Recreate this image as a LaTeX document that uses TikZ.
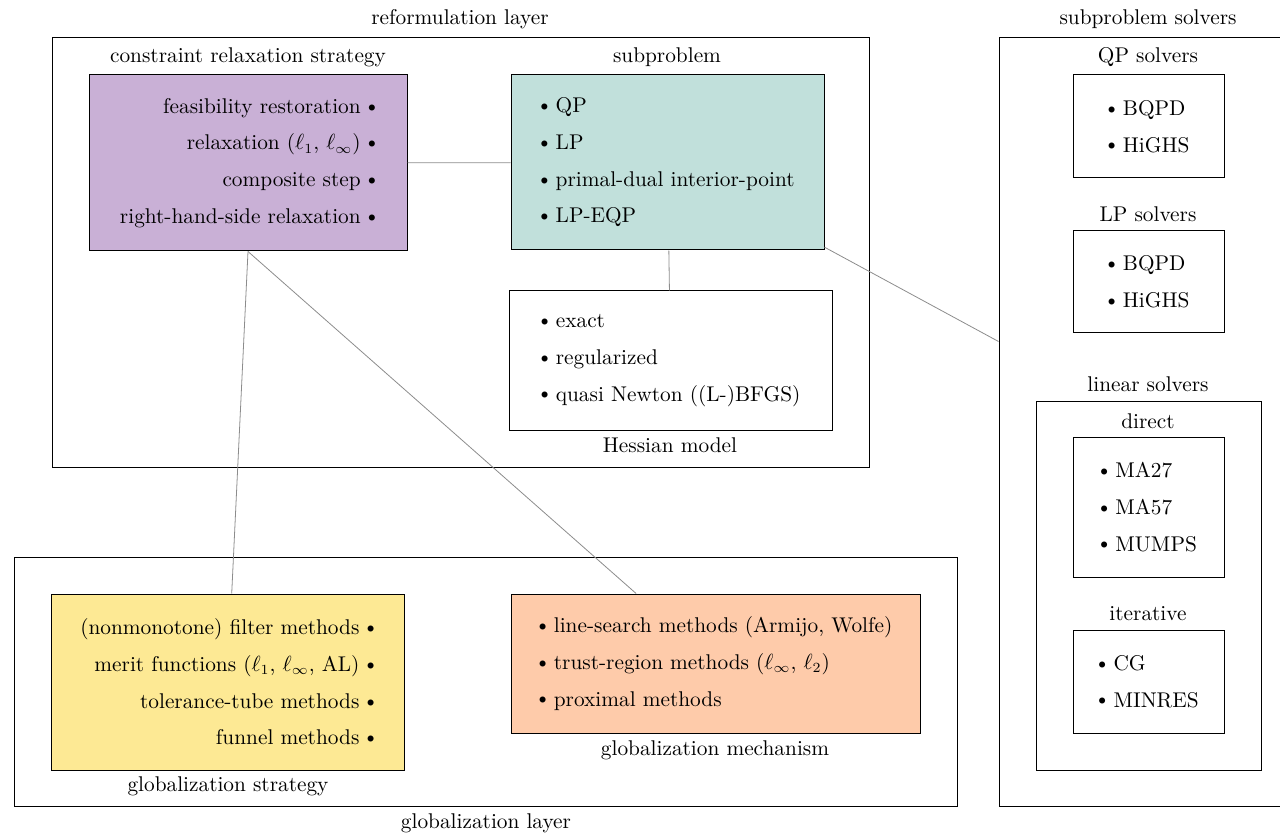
\documentclass[tikz,border=0pt]{standalone}
\usepackage{tikz}
\definecolor{cpurple}{RGB}{201,176,214}
\definecolor{cteal}{RGB}{193,224,219}
\definecolor{cyellow}{RGB}{253,233,148}
\definecolor{corange}{RGB}{254,203,170}
\newcommand{\bul}{\ensuremath{\vcenter{\hbox{$\scriptstyle\bullet$}}}}
\begin{document}
\begin{tikzpicture}[x=0.5pt,y=-0.5pt,
  box/.style={draw=black, line width=0.5pt, rectangle, inner sep=0pt,
    font=\fontsize{10.66}{18.35}\selectfont},
  lay/.style={draw=black, line width=0.5pt, rectangle, inner sep=0pt},
  lbl/.style={inner sep=0pt, text height=7.4pt, text depth=2.1pt, font=\fontsize{10.66}{12.8}\selectfont},
  link/.style={draw=black!45, line width=0.4pt}]
\clip (0,0) rectangle (1280,834);
\useasboundingbox (0,0) rectangle (1280,834);
% layers
\node[lay, minimum width=408.5pt, minimum height=214.5pt] (reform) at (460.5,252.5) {};
\node[lay, minimum width=471.5pt, minimum height=124.5pt] (globl) at (485.5,681.5) {};
\node[lay, minimum width=149pt, minimum height=384pt] (solvers) at (1148,422) {};
\node[lay, minimum width=112.5pt, minimum height=184.5pt] (linear) at (1148.5,585.5) {};
% boxes
\node[box, fill=cpurple, align=right, minimum width=159pt, minimum height=88pt] (crs) at (248,163)
  {feasibility restoration \bul\\ relaxation ($\ell_1$, $\ell_\infty$) \bul\\ composite step \bul\\ right-hand-side relaxation \bul};
\node[box, fill=cteal, align=left, minimum width=156.5pt, minimum height=87.5pt] (sub) at (667.5,162.5)
  {\bul{} QP\\ \bul{} LP\\ \bul{} primal-dual interior-point\\ \bul{} LP-EQP};
\node[box, fill=white, align=left, minimum width=161.5pt, minimum height=69.5pt] (hess) at (670.5,360.5)
  {\bul{} exact\\ \bul{} regularized\\ \bul{} quasi Newton ((L-)BFGS)};
\node[box, fill=cyellow, align=right, minimum width=176.5pt, minimum height=88pt] (gstrat) at (227.5,682)
  {(nonmonotone) filter methods \bul\\ merit functions ($\ell_1$, $\ell_\infty$, AL) \bul\\ tolerance-tube methods \bul\\ funnel methods \bul};
\node[box, fill=corange, align=left, minimum width=204.5pt, minimum height=69.5pt] (gmech) at (715.5,663.5)
  {\bul{} line-search methods (Armijo, Wolfe)\\ \bul{} trust-region methods ($\ell_\infty$, $\ell_2$)\\ \bul{} proximal methods};
\node[box, align=left, minimum width=75.5pt, minimum height=51.5pt] (qp) at (1148.5,126.5)
  {\bul{} BQPD\\ \bul{} HiGHS};
\node[box, align=left, minimum width=75.5pt, minimum height=51pt] (lp) at (1148.5,282)
  {\bul{} BQPD\\ \bul{} HiGHS};
\node[box, align=left, minimum width=75.5pt, minimum height=70pt] (direct) at (1148.5,507)
  {\bul{} MA27\\ \bul{} MA57\\ \bul{} MUMPS};
\node[box, align=left, minimum width=75.5pt, minimum height=51.5pt] (iter) at (1148.5,681.5)
  {\bul{} CG\\ \bul{} MINRES};
% labels
\node[lbl] (lreform) at (460,19) {reformulation layer};
\node[lbl] (lcrs) at (248,57) {constraint relaxation strategy};
\node[lbl] (lsub) at (667,57) {subproblem};
\node[lbl] (lhess) at (670,447) {Hessian model};
\node[lbl] (lsolvers) at (1148,19) {subproblem solvers};
\node[lbl] (lqp) at (1148,57) {QP solvers};
\node[lbl] (llp) at (1148,216) {LP solvers};
\node[lbl] (llinear) at (1148,386) {linear solvers};
\node[lbl] (ldirect) at (1148,423) {direct};
\node[lbl] (liter) at (1148,615) {iterative};
\node[lbl] (lgstrat) at (228,786) {globalization strategy};
\node[lbl] (lgmech) at (715,750) {globalization mechanism};
\node[lbl] (lglobl) at (486,823) {globalization layer};
% connectors
\draw[link] (crs) -- (sub);
\draw[link] (sub) -- (hess);
\draw[link] (sub) -- (solvers);
\draw[link] (crs.south) -- (gstrat);
\draw[link] (crs.south) -- (gmech);
\end{tikzpicture}
\end{document}
